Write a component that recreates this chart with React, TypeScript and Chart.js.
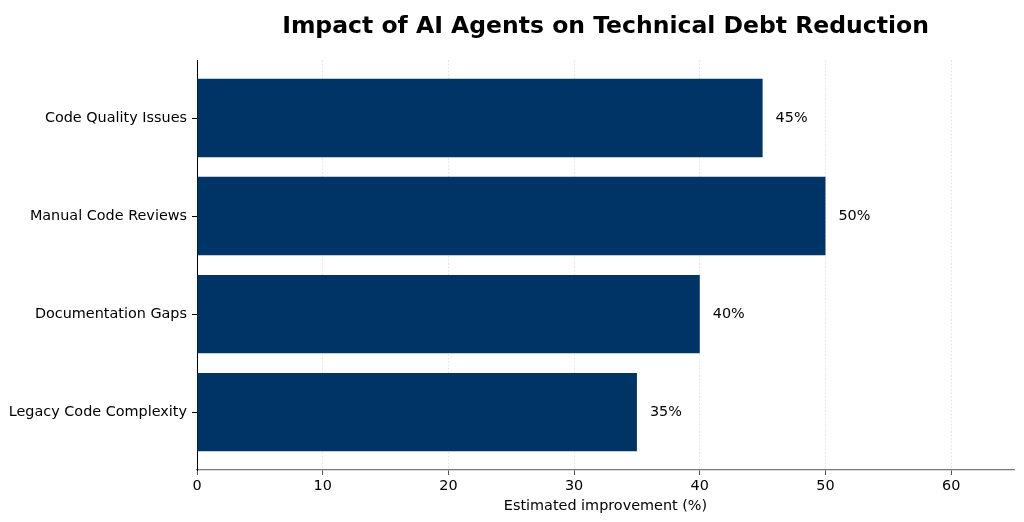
import React, { useEffect, useRef } from "react";
import { Chart, registerables } from "chart.js";

Chart.register(...registerables);

const categories = [
  "Code Quality Issues",
  "Manual Code Reviews",
  "Documentation Gaps",
  "Legacy Code Complexity",
];
const improvements = [45, 50, 40, 35];
const xTicks = [0, 10, 20, 30, 40, 50, 60];
const chartTitle = "Impact of AI Agents on Technical Debt Reduction";
const xAxisTitle = "Estimated improvement (%)";

const FONT = '"DejaVu Sans", "Liberation Sans", sans-serif';
const FS = 14.4;

const valueLabels = {
  id: "valueLabels",
  afterDatasetsDraw(chart: any) {
    const { ctx } = chart;
    const meta = chart.getDatasetMeta(0);
    ctx.save();
    ctx.font = `${FS}px ${FONT}`;
    ctx.fillStyle = "#000";
    ctx.textBaseline = "middle";
    ctx.textAlign = "left";
    meta.data.forEach((bar: any, i: number) => {
      ctx.fillText(`${improvements[i]}%`, bar.x + 13, bar.y);
    });
    ctx.restore();
  },
};

export default function App() {
  const ref = useRef<HTMLCanvasElement>(null);

  useEffect(() => {
    document.body.style.margin = "0";
    const canvas = ref.current!;
    const chart = new Chart(canvas, {
      type: "bar",
      data: {
        datasets: [
          {
            data: improvements.map((v, i) => ({ x: v, y: i })),
            backgroundColor: "#003366",
            borderWidth: 0,
            categoryPercentage: 0.8,
            barPercentage: 1,
          },
        ],
      },
      options: {
        indexAxis: "y",
        responsive: false,
        animation: false,
        layout: { padding: { left: 0, right: 10, top: 0, bottom: 0 } },
        plugins: {
          legend: { display: false },
          tooltip: { enabled: false },
          title: {
            display: true,
            text: chartTitle,
            fullSize: false,
            color: "#000",
            font: { family: FONT, size: 23.5, weight: "bold" },
            padding: { top: 13, bottom: 19 },
          },
        },
        scales: {
          x: {
            type: "linear",
            min: 0,
            max: 65,
            afterBuildTicks: (scale: any) => {
              scale.ticks = xTicks.map((v) => ({ value: v }));
            },
            afterFit: (scale: any) => {
              scale.height = 52;
            },
            ticks: {
              color: "#000",
              font: { family: FONT, size: FS },
              padding: 3,
              maxRotation: 0,
            },
            grid: {
              color: "#d9d9d9",
              lineWidth: 0.8,
              tickColor: "#555",
              tickLength: 5,
              tickWidth: 1,
            },
            border: { display: true, color: "#7a7a7a", width: 1.3, dash: [1.5, 2] },
            title: {
              display: true,
              text: xAxisTitle,
              color: "#000",
              font: { family: FONT, size: FS },
              padding: { top: 0, bottom: 7 },
            },
          },
          y: {
            type: "linear",
            min: -0.59,
            max: 3.59,
            reverse: true,
            offset: false,
            afterBuildTicks: (scale: any) => {
              scale.ticks = categories.map((_, i) => ({ value: i }));
            },
            afterFit: (scale: any) => {
              scale.width = 197;
            },
            ticks: {
              color: "#000",
              font: { family: FONT, size: FS },
              padding: 5,
              callback: (v: any) => categories[Number(v)] ?? "",
            },
            grid: {
              offset: false,
              drawOnChartArea: false,
              tickColor: "#000",
              tickLength: 5,
              tickWidth: 1,
            },
            border: { display: true, color: "#000", width: 1 },
          },
        },
      },
      plugins: [valueLabels],
    } as any);
    return () => chart.destroy();
  }, []);

  return (
    <div style={{ position: "absolute", left: 0, top: 0, width: 1024, height: 522, background: "#fff" }}>
      <canvas ref={ref} width={1024} height={522} />
    </div>
  );
}
